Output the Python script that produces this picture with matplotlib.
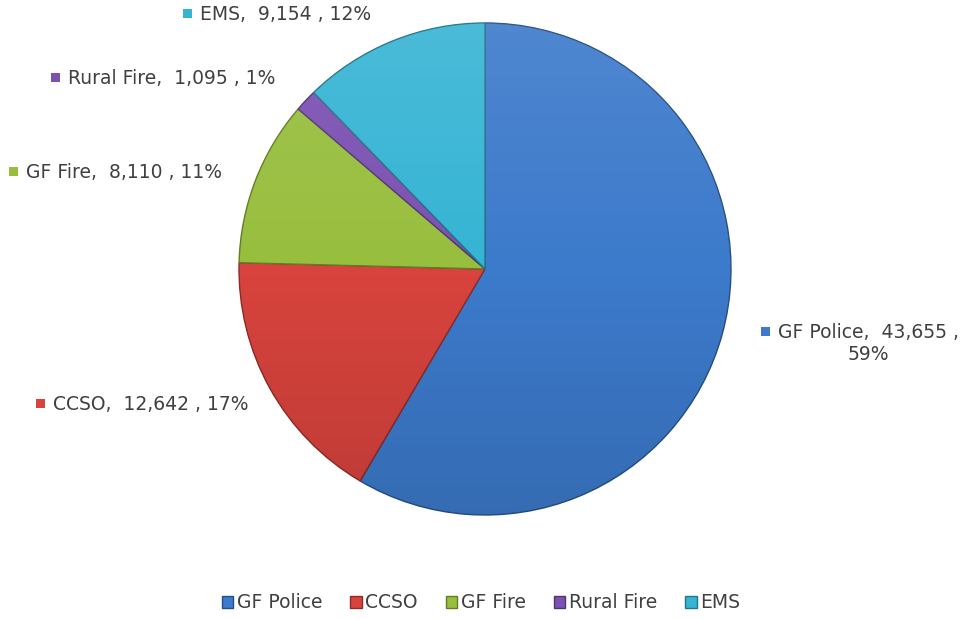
import numpy as np
import matplotlib
matplotlib.use("Agg")
import matplotlib.pyplot as plt
from matplotlib.patches import Circle, Rectangle

# call volumes by agency
agencies = ["GF Police", "CCSO", "GF Fire", "Rural Fire", "EMS"]
calls = [43655, 12642, 8110, 1095, 9154]
pct_labels = [59, 17, 11, 1, 12]
colors = ["#3c7acb", "#d8433d", "#98be3e", "#7b51b2", "#36b4d4"]

plt.rcParams["font.family"] = ["DejaVu Sans"]
TXT = "#404040"
FS = 13.5

W, H = 963, 619
fig = plt.figure(figsize=(W / 100, H / 100), dpi=100)
ax = fig.add_axes([0, 0, 1, 1])

cx, cy, r = 485, H - 269, 246
wedges, _ = ax.pie(calls, colors=colors, startangle=90, counterclock=False,
                   center=(cx, cy), radius=r, frame=True,
                   wedgeprops=dict(linewidth=1.0))
for w, c in zip(wedges, colors):
    w.set_edgecolor(np.array(matplotlib.colors.to_rgba(c)) * [0.65, 0.65, 0.65, 1])
ax.set_xlim(0, W)
ax.set_ylim(0, H)
ax.axis("off")

# light top, slightly darker bottom
t = np.linspace(0, 1, 256)
shade = np.zeros((256, 1, 4))
top = t < 0.5
shade[top, 0, :3] = 1.0
shade[top, 0, 3] = 0.10 * (1 - t[top] / 0.5)
shade[~top, 0, :3] = 0.0
shade[~top, 0, 3] = 0.12 * ((t[~top] - 0.5) / 0.5)
img = ax.imshow(shade, extent=(cx - r, cx + r, cy - r, cy + r), origin="upper",
                aspect="auto", zorder=3, interpolation="bilinear")
img.set_clip_path(Circle((cx, cy), r, transform=ax.transData))

# data labels (marker + text), placed outside the pie
label_pos = [(778, H - 332), (53, H - 404), (26, H - 172), (68, H - 78), (200, H - 14)]
renderer = fig.canvas.get_renderer()
for i, (x, y) in enumerate(label_pos):
    ax.add_patch(Rectangle((x - 17, y - 4), 9, 9, facecolor=colors[i],
                           edgecolor="none", zorder=4))
    if i == 0:
        t1 = ax.text(x, y, f"{agencies[i]},  {calls[i]:,} ,", fontsize=FS,
                     color=TXT, va="center", ha="left")
        bb = t1.get_window_extent(renderer)
        ax.text((bb.x0 + bb.x1) / 2, y - 23, f"{pct_labels[i]}%", fontsize=FS,
                color=TXT, va="center", ha="center")
    else:
        ax.text(x, y, f"{agencies[i]},  {calls[i]:,} , {pct_labels[i]}%",
                fontsize=FS, color=TXT, va="center", ha="left")

# legend along the bottom
fig.legend(wedges, agencies, loc="center", bbox_to_anchor=(481 / W, 1 - 603 / H),
           ncol=5, frameon=False, fontsize=FS, labelcolor=TXT,
           handlelength=0.6, handleheight=0.6, handletextpad=0.2,
           columnspacing=1.5)

fig.savefig("out.png", dpi=100, facecolor="white")
